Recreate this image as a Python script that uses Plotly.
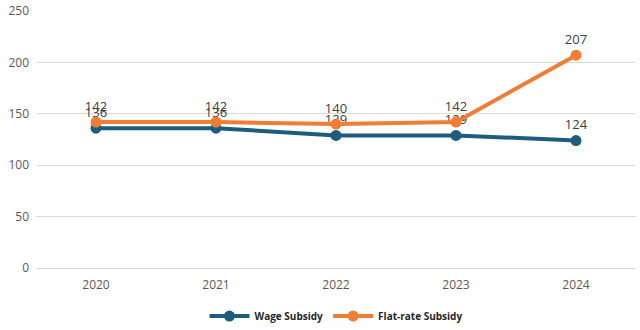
import plotly.graph_objects as go

years = ["2020", "2021", "2022", "2023", "2024"]
wage_subsidy = [136, 136, 129, 129, 124]
flat_rate_subsidy = [142, 142, 140, 142, 207]
y_ticks = [0, 50, 100, 150, 200, 250]

blue = "#1E5C7E"
orange = "#F07D34"

fig = go.Figure()
fig.add_trace(go.Scatter(
    x=years, y=wage_subsidy, name="Wage Subsidy", mode="lines+markers+text",
    line=dict(color=blue, width=4), marker=dict(color=blue, size=11),
    text=[str(v) for v in wage_subsidy], textposition="top center",
    textfont=dict(size=13, color="#404040", family="Open Sans"),
    cliponaxis=False,
))
fig.add_trace(go.Scatter(
    x=years, y=flat_rate_subsidy, name="Flat-rate Subsidy", mode="lines+markers+text",
    line=dict(color=orange, width=4), marker=dict(color=orange, size=11),
    text=[str(v) for v in flat_rate_subsidy], textposition="top center",
    textfont=dict(size=13, color="#404040", family="Open Sans"),
    cliponaxis=False,
))

fig.update_layout(
    width=640, height=330,
    margin=dict(l=36, r=4, t=11, b=62, autoexpand=False),
    paper_bgcolor="white", plot_bgcolor="white",
    font=dict(family="Open Sans", size=12, color="#595959"),
    showlegend=True,
    legend=dict(orientation="h", x=0.5, xanchor="center", y=-0.187, yanchor="middle",
                font=dict(size=10, color="#262626", family="Open Sans", weight="bold"),
                itemwidth=40),
    xaxis=dict(range=[-0.5, 4.5], showgrid=False, showline=False, ticks="",
               tickfont=dict(size=12, color="#595959"), ticklabelstandoff=8),
    yaxis=dict(range=[0, 250], tickvals=y_ticks, showgrid=True, gridcolor="#D9D9D9",
               gridwidth=1, zeroline=True, zerolinecolor="#D9D9D9", zerolinewidth=1,
               ticks="", tickfont=dict(size=12, color="#595959"), ticklabelstandoff=6),
)

fig.write_html("out.html")
